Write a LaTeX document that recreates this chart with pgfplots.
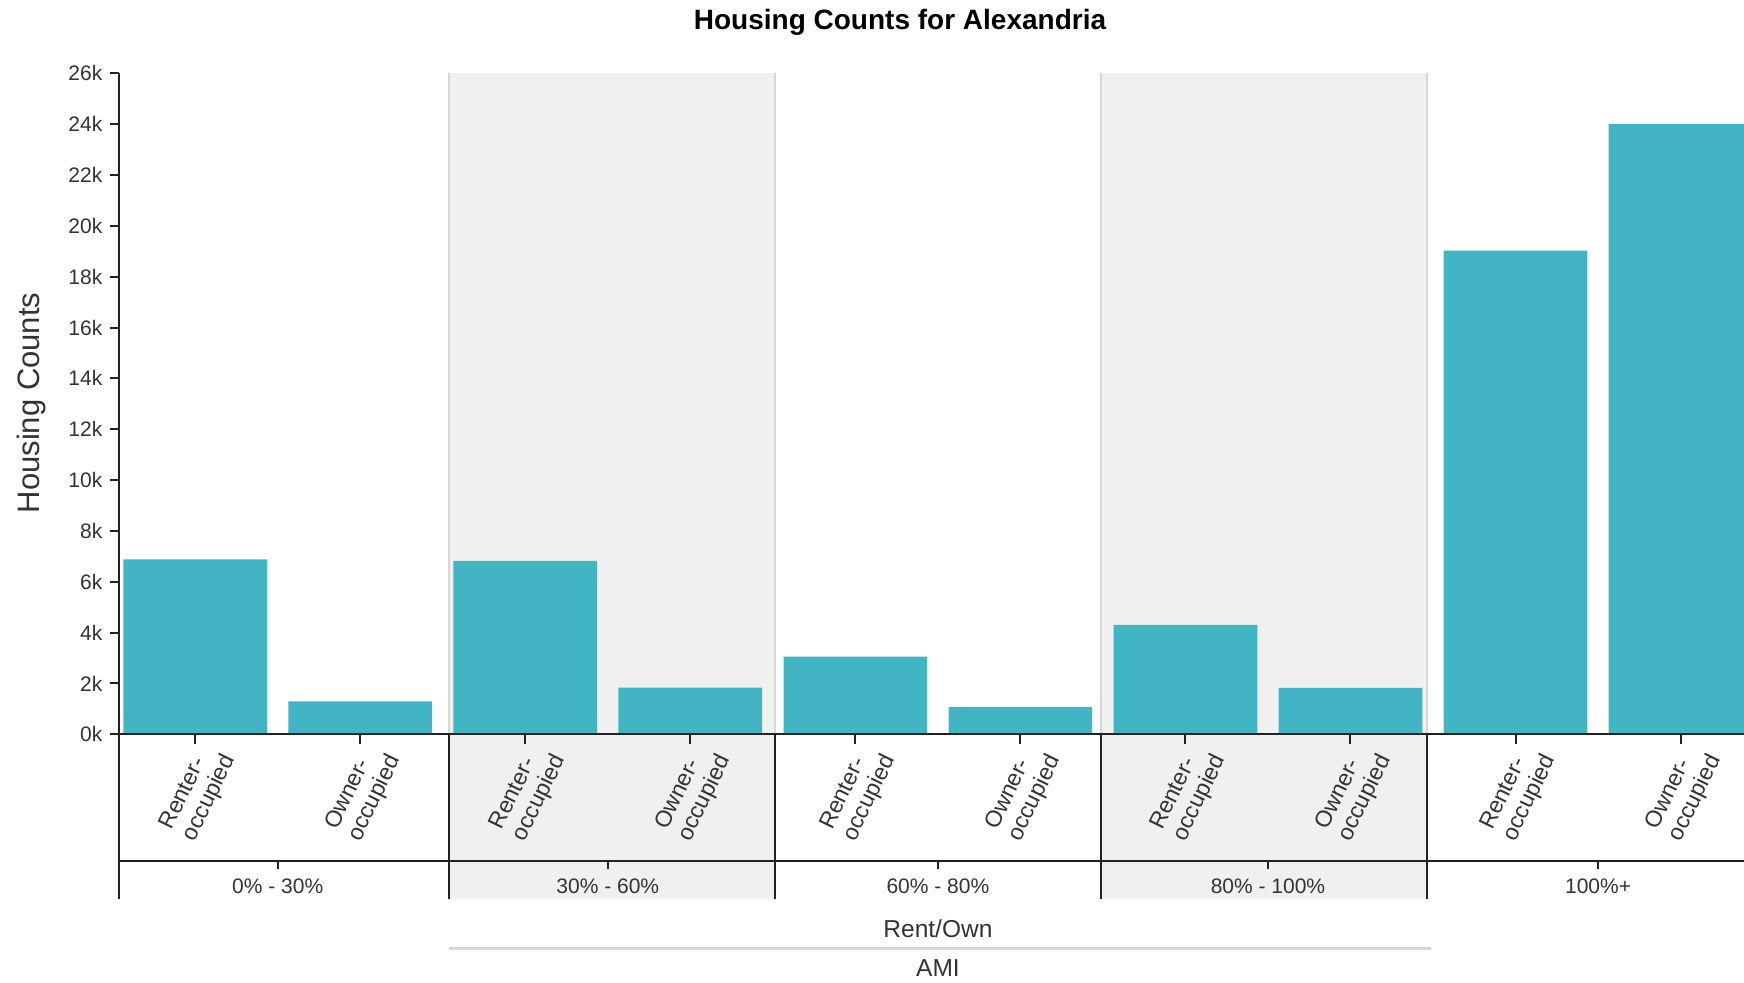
\documentclass[border=0pt]{standalone}
\usepackage{pgfplots}
\pgfplotsset{compat=1.18}
\usepackage{fontspec}
\setmainfont{Liberation Sans}
\definecolor{barc}{RGB}{66,181,196}
\definecolor{bandc}{RGB}{240,240,240}
\definecolor{sepc}{RGB}{214,214,214}
\definecolor{axc}{RGB}{34,34,34}
\definecolor{txtc}{RGB}{51,51,51}
\newcommand\ticklabfont{\fontsize{10.5pt}{12.5pt}\selectfont}
\newcommand\sublabfont{\fontsize{11.5pt}{12.8pt}\selectfont}
\tikzset{
  sublab/.style={rotate=64, anchor=east, align=left, inner sep=0pt, font=\sublabfont, text=txtc},
  grplab/.style={font=\ticklabfont, text=txtc},
}
\begin{document}
\begin{tikzpicture}
\begin{axis}[
  at={(59.65pt,124.35pt)}, anchor=south west,
  scale only axis, width=812.35pt, height=330.5pt,
  xmin=0, xmax=9.844, ymin=0, ymax=26000,
  clip=false, axis on top,
  axis x line=bottom, axis y line=left,
  axis line style={draw=axc, line width=1pt, -},
  tick align=outside, major tick length=4.8pt,
  tick style={draw=axc, line width=1pt},
  xtick={0.4596,1.4596,2.4596,3.4596,4.4596,5.4596,6.4596,7.4596,8.4596,9.4596},
  xticklabels={},
  scaled y ticks=false,
  ytick={0,2000,4000,6000,8000,10000,12000,14000,16000,18000,20000,22000,24000,26000},
  yticklabels={0k,2k,4k,6k,8k,10k,12k,14k,16k,18k,20k,22k,24k,26k},
  yticklabel style={font=\ticklabfont, text=txtc, inner sep=0pt, xshift=-3.5pt},
  ybar, bar width=0.8706,
]
% shaded AMI bands
\fill[bandc] (axis cs:1.998,-6478) rectangle (axis cs:3.973,26000);
\fill[bandc] (axis cs:5.948,-6478) rectangle (axis cs:7.921,26000);
\draw[sepc, line width=1pt] (axis cs:1.998,0) -- (axis cs:1.998,26000);
\draw[sepc, line width=1pt] (axis cs:3.973,0) -- (axis cs:3.973,26000);
\draw[sepc, line width=1pt] (axis cs:5.948,0) -- (axis cs:5.948,26000);
\draw[sepc, line width=1pt] (axis cs:7.921,0) -- (axis cs:7.921,26000);

% Renter / Owner per AMI group
\addplot[fill=barc, draw=none] coordinates {
  (0.4596,6880) (1.4596,1290)
  (2.4596,6820) (3.4596,1833)
  (4.4596,3053) (5.4596,1074)
  (6.4596,4300) (7.4596,1821)
  (8.4596,19024) (9.4596,24009)
};

% lower (AMI) axis
\draw[axc, line width=1pt] (axis cs:0,0) -- (axis cs:0,-6478);
\draw[axc, line width=1pt] (axis cs:1.998,0) -- (axis cs:1.998,-6478);
\draw[axc, line width=1pt] (axis cs:3.973,0) -- (axis cs:3.973,-6478);
\draw[axc, line width=1pt] (axis cs:5.948,0) -- (axis cs:5.948,-6478);
\draw[axc, line width=1pt] (axis cs:7.921,0) -- (axis cs:7.921,-6478);
\draw[axc, line width=1pt] (axis cs:0,-5000) -- (axis cs:9.844,-5000);
\draw[axc, line width=1pt] (axis cs:0.9596,-5000) -- (axis cs:0.9596,-5298);
\draw[axc, line width=1pt] (axis cs:2.9596,-5000) -- (axis cs:2.9596,-5298);
\draw[axc, line width=1pt] (axis cs:4.9596,-5000) -- (axis cs:4.9596,-5298);
\draw[axc, line width=1pt] (axis cs:6.9596,-5000) -- (axis cs:6.9596,-5298);
\draw[axc, line width=1pt] (axis cs:8.9596,-5000) -- (axis cs:8.9596,-5298);

\node[sublab] at (axis cs:0.6036,-657) {Renter-\\occupied};
\node[sublab] at (axis cs:1.6036,-657) {Owner-\\occupied};
\node[sublab] at (axis cs:2.6036,-657) {Renter-\\occupied};
\node[sublab] at (axis cs:3.6036,-657) {Owner-\\occupied};
\node[sublab] at (axis cs:4.6036,-657) {Renter-\\occupied};
\node[sublab] at (axis cs:5.6036,-657) {Owner-\\occupied};
\node[sublab] at (axis cs:6.6036,-657) {Renter-\\occupied};
\node[sublab] at (axis cs:7.6036,-657) {Owner-\\occupied};
\node[sublab] at (axis cs:8.6036,-657) {Renter-\\occupied};
\node[sublab] at (axis cs:9.6036,-657) {Owner-\\occupied};

\node[grplab] at (axis cs:0.9596,-5994) {0\% - 30\%};
\node[grplab] at (axis cs:2.9596,-5994) {30\% - 60\%};
\node[grplab] at (axis cs:4.9596,-5994) {60\% - 80\%};
\node[grplab] at (axis cs:6.9596,-5994) {80\% - 100\%};
\node[grplab] at (axis cs:8.9596,-5994) {100\%+};

\node[font=\fontsize{12.25pt}{14pt}\selectfont, text=txtc] at (axis cs:4.96,-7657) {Rent/Own};
\draw[sepc, line width=1.5pt] (axis cs:1.995,-8443) -- (axis cs:7.95,-8443);
\node[font=\fontsize{12.25pt}{14pt}\selectfont, text=txtc] at (axis cs:4.96,-9190) {AMI};
\end{axis}
\node[rotate=90, font=\fontsize{15.5pt}{18pt}\selectfont, text=txtc] at (15.5pt,290pt) {Housing Counts};
\node[font=\bfseries\fontsize{14pt}{17pt}\selectfont] at (450pt,480.5pt) {Housing Counts for Alexandria};
\pgfresetboundingbox
\useasboundingbox (0,0) rectangle (872pt,491.5pt);
\end{tikzpicture}
\end{document}
